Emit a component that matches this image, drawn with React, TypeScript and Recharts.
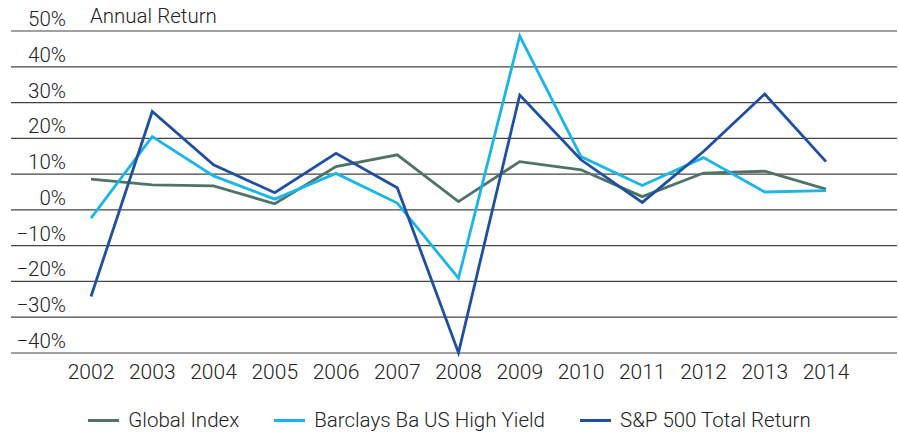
import React from "react";
import { LineChart, Line, XAxis, YAxis, CartesianGrid, Legend } from "recharts";

const years = ["2002", "2003", "2004", "2005", "2006", "2007", "2008", "2009", "2010", "2011", "2012", "2013", "2014"];
const globalIndex = [8.6, 7.0, 6.7, 1.7, 12.1, 15.4, 2.3, 13.5, 11.2, 3.7, 10.3, 10.8, 5.8];
const barclaysHighYield = [-2.3, 20.5, 9.5, 3.0, 10.2, 1.9, -19.1, 48.6, 14.9, 6.8, 14.6, 5.0, 5.4];
const sp500 = [-24.2, 27.5, 12.6, 4.8, 15.8, 6.2, -39.9, 32.1, 14.0, 2.1, 16.3, 32.4, 13.5];
const yTicks = [-40, -30, -20, -10, 0, 10, 20, 30, 40, 50];

const chartTitle = "Annual Return";
const FONT = "Roboto, 'Liberation Sans', Arial, sans-serif";
const TEXT = "#222";

const series = [
  { key: "global", name: "Global Index", color: "#4f7367", values: globalIndex },
  { key: "barclays", name: "Barclays Ba US High Yield", color: "#1ab6ea", values: barclaysHighYield },
  { key: "sp500", name: "S&P 500 Total Return", color: "#1f4fa0", values: sp500 },
];

const data = years.map((year, i) => {
  const row: Record<string, string | number> = { year };
  series.forEach((s) => (row[s.key] = s.values[i]));
  return row;
});

const fmtPct = (v: number) => (v < 0 ? "\u2212" + Math.abs(v) : String(v)) + "%";

const renderYTick = (props: any) => {
  const { y, payload } = props;
  return (
    <text x={66} y={y - 5} textAnchor="end" fontSize={20.5} fontWeight={300} fill={TEXT} fontFamily={FONT}>
      {fmtPct(payload.value)}
    </text>
  );
};

const LegendContent = () => (
  <div style={{ display: "flex", justifyContent: "center", gap: 35, paddingTop: 13, fontFamily: FONT }}>
    {series.map((s) => (
      <div key={s.key} style={{ display: "flex", alignItems: "center" }}>
        <span style={{ display: "inline-block", width: 31, height: 3, background: s.color, marginRight: 9 }} />
        <span style={{ fontSize: 20.5, fontWeight: 300, color: TEXT }}>{s.name}</span>
      </div>
    ))}
  </div>
);

export default function App() {
  return (
    <div style={{ position: "absolute", left: 0, top: 0, width: 899, height: 435, background: "#fff" }}>
      <div
        style={{
          position: "absolute",
          left: 90,
          top: 4,
          fontSize: 20.5,
          fontWeight: 300,
          color: TEXT,
          fontFamily: FONT,
          lineHeight: "24px",
        }}
      >
        {chartTitle}
      </div>
      <LineChart width={899} height={435} data={data} margin={{ top: 31, right: 2, left: 10, bottom: 0 }}>
        <CartesianGrid vertical={false} stroke="#444" strokeWidth={1.2} />
        <XAxis
          dataKey="year"
          axisLine={false}
          tickLine={false}
          tickSize={0}
          tickMargin={11}
          height={42}
          padding={{ left: 80, right: 71 }}
          tick={{ fontSize: 21, fontWeight: 300, fill: TEXT, fontFamily: FONT }}
          interval={0}
        />
        <YAxis
          width={1}
          domain={[-40, 50]}
          ticks={yTicks}
          axisLine={false}
          tickLine={false}
          tick={renderYTick}
          interval={0}
        />
        <Legend verticalAlign="bottom" height={40} content={<LegendContent />} wrapperStyle={{ left: 0, width: 899 }} />
        {series.map((s) => (
          <Line
            key={s.key}
            type="linear"
            dataKey={s.key}
            name={s.name}
            stroke={s.color}
            strokeWidth={2.8}
            dot={false}
            activeDot={false}
            isAnimationActive={false}
          />
        ))}
      </LineChart>
    </div>
  );
}
